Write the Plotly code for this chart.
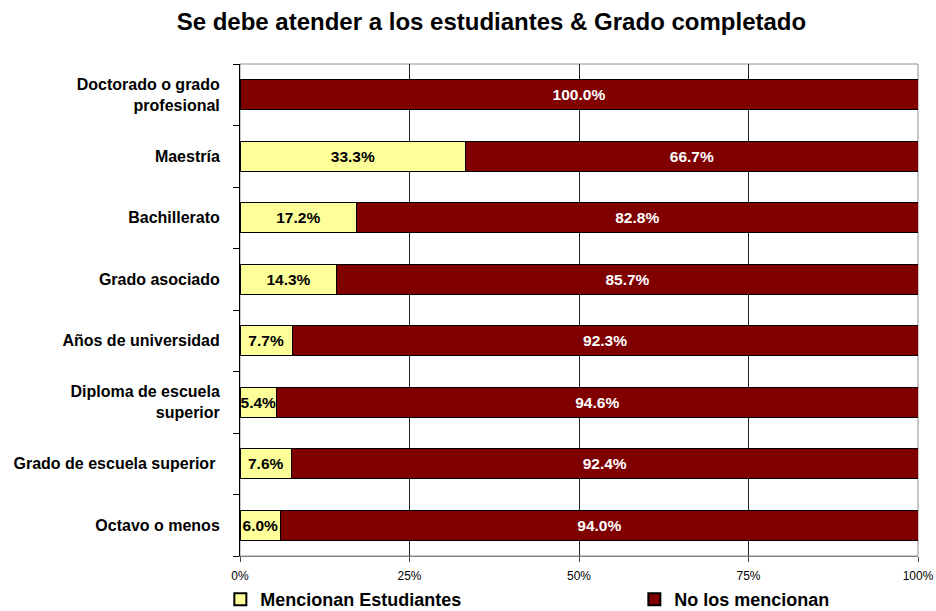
import plotly.graph_objects as go

categories = [
    "Doctorado o grado<br>profesional",
    "Maestría",
    "Bachillerato",
    "Grado asociado",
    "Años de universidad",
    "Diploma de escuela<br>superior",
    "Grado de escuela superior ",
    "Octavo o menos",
]
mencionan = [0.0, 33.3, 17.2, 14.3, 7.7, 5.4, 7.6, 6.0]
no_mencionan = [100.0, 66.7, 82.8, 85.7, 92.3, 94.6, 92.4, 94.0]
x_ticks = [0, 25, 50, 75, 100]
x_tick_labels = ["0%", "25%", "50%", "75%", "100%"]

FONT = "Liberation Sans, Arial, sans-serif"


def labels(vals):
    return [f"<b>{v:.1f}%</b>" if v > 0 else "" for v in vals]


fig = go.Figure()
fig.add_trace(go.Bar(
    y=categories, x=mencionan, name="<b>Mencionan Estudiantes</b>", orientation="h",
    marker=dict(color="#FFFF99", line=dict(color="black", width=1)),
    text=labels(mencionan), textposition="inside", insidetextanchor="middle",
    textfont=dict(family=FONT, size=15.5, color="black"),
    constraintext="none",
))
fig.add_trace(go.Bar(
    y=categories, x=no_mencionan, name="<b>No los mencionan</b>", orientation="h",
    marker=dict(color="#800000", line=dict(color="black", width=1)),
    text=labels(no_mencionan), textposition="inside", insidetextanchor="middle",
    textfont=dict(family=FONT, size=15.5, color="white"),
    constraintext="none",
))

fig.update_layout(
    width=936, height=611,
    barmode="stack", bargap=0.51,
    margin=dict(l=240, r=18, t=64, b=55, autoexpand=False),
    plot_bgcolor="white", paper_bgcolor="white",
    font=dict(family=FONT, color="black"),
    uniformtext=dict(minsize=15, mode="show"),
    title=dict(
        text="<b>Se debe atender a los estudiantes & Grado completado</b>",
        x=0.525, xanchor="center", y=0.964, yanchor="middle",
        font=dict(family=FONT, size=24, color="black"),
    ),
    legend=dict(
        orientation="h", x=-0.029, xanchor="left", y=-0.051, yanchor="top",
        font=dict(family=FONT, size=18, color="black"),
        entrywidth=369, entrywidthmode="pixels", itemsizing="constant",
        traceorder="normal", tracegroupgap=0,
    ),
)

fig.update_xaxes(
    range=[0, 100], tickvals=x_ticks, ticktext=x_tick_labels,
    showgrid=True, gridcolor="#202020", gridwidth=1,
    ticks="outside", ticklen=5, tickcolor="#404040",
    showline=True, linecolor="#808080", linewidth=1,
    tickfont=dict(family=FONT, size=12, color="black"),
    ticklabelstandoff=4, zeroline=False, automargin=False,
)
fig.update_yaxes(
    autorange="reversed", tickson="boundaries",
    ticks="outside", ticklen=6, tickcolor="black",
    showline=True, linecolor="black", linewidth=1,
    tickfont=dict(family=FONT, size=16, color="black"),
    ticklabelstandoff=16, showgrid=False, automargin=False,
)
fig.update_yaxes(tickvals=categories,
                 ticktext=[f"<b>{c}</b>" for c in categories])

# gray plot-area border on top/right
fig.add_shape(type="rect", xref="paper", yref="paper", x0=0, x1=1, y0=0, y1=1,
              line=dict(color="#909090", width=1), layer="below")

fig.write_html("out.html", config={"displayModeBar": False},
               post_script="document.body.style.margin='0';")
